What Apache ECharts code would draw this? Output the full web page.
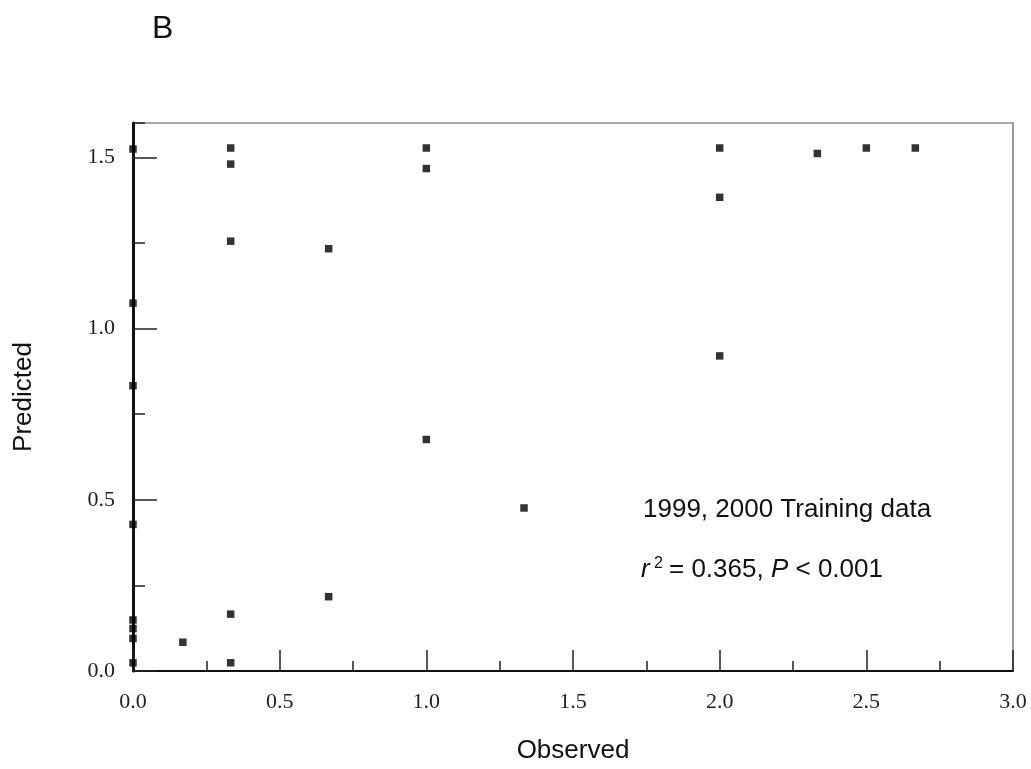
<!DOCTYPE html>
<html>
<head>
<meta charset="utf-8">
<title>Observed vs Predicted</title>
<script src="https://cdn.jsdelivr.net/npm/echarts@6/dist/echarts.min.js"></script>
<style>
  html, body { margin: 0; padding: 0; background: #fff; }
  #chartmain { width: 1031px; height: 769px; }
</style>
</head>
<body>
<div id="chartmain"></div>
<script>
// observed / predicted pairs
var observed = [0, 0, 0, 0, 0, 0, 0, 0,
                0.17,
                0.333, 0.333, 0.333, 0.333, 0.333,
                0.667, 0.667,
                1, 1, 1,
                1.333,
                2, 2, 2,
                2.333, 2.5, 2.667];
var predicted = [1.524, 1.074, 0.833, 0.428, 0.149, 0.124, 0.095, 0.024,
                 0.084,
                 1.527, 1.480, 1.255, 0.166, 0.024,
                 1.233, 0.217,
                 1.527, 1.467, 0.676,
                 0.476,
                 1.527, 1.383, 0.920,
                 1.511, 1.527, 1.527];
var xTicks = [0, 0.5, 1.0, 1.5, 2.0, 2.5, 3.0];
var yTicks = [0, 0.5, 1.0, 1.5];

chart();

function chart() {
    var myChart = echarts.init(document.getElementById('chartmain'));

    var points = [];
    for (var i = 0; i < observed.length; i++) {
        points.push([observed[i], predicted[i]]);
    }

    var serif = 'Liberation Serif';
    var sans = 'Liberation Sans';

    var option = {
        animation: false,
        backgroundColor: '#fff',
        grid: {
            left: 133, right: 18, top: 123, bottom: 96,
            show: true, borderColor: '#555', borderWidth: 1.2
        },
        xAxis: {
            type: 'value',
            min: xTicks[0], max: xTicks[xTicks.length - 1], interval: 0.5,
            name: 'Observed', nameLocation: 'middle', nameGap: 67,
            nameTextStyle: { fontFamily: sans, fontSize: 26, color: '#111' },
            axisLine: { lineStyle: { color: '#111', width: 2 } },
            axisTick: { inside: true, length: 21, lineStyle: { color: '#222', width: 1.5 } },
            minorTick: { show: true, splitNumber: 2, length: 10, lineStyle: { color: '#222', width: 1.5 } },
            axisLabel: {
                margin: 20, fontFamily: serif, fontSize: 22, color: '#222',
                formatter: function (v) { return v.toFixed(1); }
            },
            splitLine: { show: false }
        },
        yAxis: [{
            type: 'value', position: 'left',
            min: yTicks[0], max: 1.6, interval: 0.5,
            name: 'Predicted', nameLocation: 'middle', nameGap: 96,
            nameTextStyle: { fontFamily: sans, fontSize: 26, color: '#111' },
            axisLine: { lineStyle: { color: '#111', width: 3 } },
            axisTick: { inside: true, length: 24, lineStyle: { color: '#222', width: 1.5 } },
            axisLabel: {
                margin: 18, fontFamily: serif, fontSize: 22, color: '#222',
                showMaxLabel: false,
                formatter: function (v) { return v.toFixed(1); }
            },
            splitLine: { show: false }
        }, {
            // minor ticks every 0.25
            type: 'value', position: 'left',
            min: 0, max: 1.6, interval: 0.25,
            axisLine: { show: false },
            axisTick: { inside: true, length: 12, lineStyle: { color: '#222', width: 1.5 } },
            axisLabel: { show: false },
            splitLine: { show: false }
        }],
        series: [{
            type: 'scatter',
            yAxisIndex: 0,
            symbol: 'rect',
            symbolSize: 7.5,
            clip: false,
            itemStyle: { color: '#000' },
            data: points
        }],
        graphic: [{
            type: 'text', left: 152, top: 13,
            style: { text: 'B', font: '32px "Liberation Sans"', fill: '#111' }
        }, {
            type: 'text', left: 643, top: 497,
            style: { text: '1999, 2000 Training data', font: '26px "Liberation Sans"', fill: '#111' }
        }, {
            type: 'text', left: 641, top: 556,
            style: {
                text: '{i|r}{s| 2}= 0.365, {i|P} < 0.001',
                font: '26px "Liberation Sans"', fill: '#111',
                rich: {
                    i: { fontFamily: sans, fontSize: 26, fontStyle: 'italic', fill: '#111' },
                    s: { fontFamily: sans, fontSize: 16, verticalAlign: 'top', padding: [0, 6, 12, 0], fill: '#111' }
                }
            }
        }]
    };

    myChart.setOption(option);
}
</script>
</body>
</html>
